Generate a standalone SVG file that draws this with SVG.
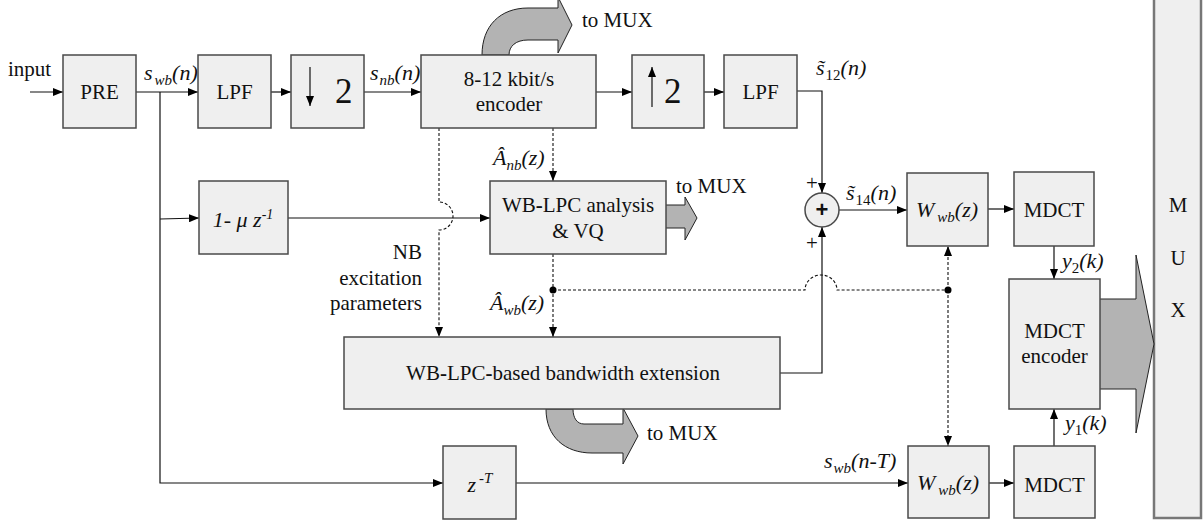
<svg xmlns="http://www.w3.org/2000/svg" width="1203" height="525" viewBox="0 0 1203 525" font-family="Liberation Serif, Times New Roman, Times, serif">
  <defs>
    <marker id="ah" viewBox="0 0 10 8" refX="10" refY="4" markerWidth="10" markerHeight="8" markerUnits="userSpaceOnUse" orient="auto">
      <path d="M0,0 L10,4 L0,8 Z" fill="#000"/>
    </marker>
    <style>
      .box { fill: #efefef; stroke: #4a4a4a; stroke-width: 1.5; }
      .ln { fill: none; stroke: #111; stroke-width: 1.2; }
      .dash { fill: none; stroke: #111; stroke-width: 1.1; stroke-dasharray: 3 2; }
      .fat { fill: #b3b3b3; stroke: #222; stroke-width: 1; }
      text { fill: #111; }
      .t { font-size: 21px; }
      .c { text-anchor: middle; }
      .r { text-anchor: end; }
      .m { font-size: 22px; font-style: italic; }
      .sub { font-size: 15px; }
      .big { font-size: 35px; }
    </style>
  </defs>

  <!-- connectors -->
  <g id="connectors">
    <line class="ln" x1="30" y1="92" x2="63" y2="92" marker-end="url(#ah)"/>
    <line class="ln" x1="136" y1="92" x2="198" y2="92" marker-end="url(#ah)"/>
    <line class="ln" x1="271" y1="92" x2="291" y2="92" marker-end="url(#ah)"/>
    <line class="ln" x1="364" y1="92" x2="421" y2="92" marker-end="url(#ah)"/>
    <line class="ln" x1="596" y1="92" x2="632" y2="92" marker-end="url(#ah)"/>
    <line class="ln" x1="704" y1="92" x2="724" y2="92" marker-end="url(#ah)"/>
    <polyline class="ln" points="797,91 822,91 822,193" marker-end="url(#ah)"/>
    <!-- wideband input branch -->
    <polyline class="ln" points="160,92 160,483 443,483" marker-end="url(#ah)"/>
    <line class="ln" x1="160" y1="219" x2="199" y2="218" marker-end="url(#ah)"/>
    <line class="ln" x1="288" y1="218" x2="490" y2="218" marker-end="url(#ah)"/>
    <!-- excitation parameters (hops over the pre-emphasis line) -->
    <path class="dash" d="M439,128 L439,202 A14,14 0 0 1 439,230 L439,337" marker-end="url(#ah)"/>
    <line class="dash" x1="553" y1="128" x2="553" y2="181" marker-end="url(#ah)"/>
    <line class="dash" x1="553" y1="254" x2="553" y2="337" marker-end="url(#ah)"/>
    <path class="dash" d="M553,290 L805,290 A16,15 0 0 1 837,290 L948,290"/>
    <line class="dash" x1="948" y1="290" x2="948" y2="246" marker-end="url(#ah)"/>
    <line class="dash" x1="948" y1="290" x2="948" y2="446" marker-end="url(#ah)"/>
    <circle cx="553" cy="290" r="3.5" fill="#000"/>
    <circle cx="948" cy="290" r="3.5" fill="#000"/>
    <!-- highband path into adder -->
    <polyline class="ln" points="780,373 822,373 822,227" marker-end="url(#ah)"/>
    <line class="ln" x1="839" y1="210" x2="907" y2="210" marker-end="url(#ah)"/>
    <line class="ln" x1="988" y1="209" x2="1014" y2="209" marker-end="url(#ah)"/>
    <line class="ln" x1="1054" y1="246" x2="1054" y2="279" marker-end="url(#ah)"/>
    <line class="ln" x1="516" y1="483" x2="908" y2="483" marker-end="url(#ah)"/>
    <line class="ln" x1="989" y1="483" x2="1014" y2="483" marker-end="url(#ah)"/>
    <line class="ln" x1="1054" y1="446" x2="1054" y2="409" marker-end="url(#ah)"/>
  </g>

  <!-- multiplexer -->
  <g id="mux">
    <rect x="1154" y="-5" width="47" height="523" fill="#efefef" stroke="#777" stroke-width="2.5"/>
    <text class="t c" x="1178" y="212">M</text>
    <text class="t c" x="1178" y="265">U</text>
    <text class="t c" x="1178" y="317">X</text>
  </g>

  <!-- bitstream arrows to the multiplexer -->
  <g id="to-mux-arrows">
    <path class="fat" d="M482,55 C482,26 500,8 528,8 L558,8 L558,-3 L572,25 L558,53 L558,40 L528,40 C516,40 509,46 509,55 Z"/>
    <text class="t" x="582" y="27">to MUX</text>
    <path class="fat" d="M666,205 L685,205 L685,197 L697,218 L685,240 L685,228 L666,228"/>
    <text class="t" x="676" y="193">to MUX</text>
    <path class="fat" d="M546,409 C546,437 565,453 592,453 L623,453 L623,464 L638,436 L623,408 L623,424 L584,424 C577,424 573,418 573,409 Z"/>
    <text class="t" x="647" y="440">to MUX</text>
    <path class="fat" d="M1100,299 L1136,299 L1136,255 L1154,344 L1136,433 L1136,389 L1100,389"/>
  </g>

  <g id="input-label"><text class="t" x="8" y="76">input</text></g>

  <g id="pre">
    <rect class="box" x="63" y="55" width="73" height="73"/>
    <text class="t c" x="99.5" y="99">PRE</text>
  </g>
  <g id="swb-label">
    <text class="m" x="144" y="80">s<tspan class="sub" dx="2" dy="5">wb</tspan><tspan dy="-5">(n)</tspan></text>
  </g>

  <g id="lpf1">
    <rect class="box" x="198" y="55" width="73" height="73"/>
    <text class="t c" x="234.5" y="99">LPF</text>
  </g>

  <g id="down2">
    <rect class="box" x="291" y="55" width="73" height="73"/>
    <line x1="310" y1="67" x2="310" y2="106" stroke="#111" stroke-width="1.2" marker-end="url(#ah)"/>
    <text class="big" x="335" y="103">2</text>
  </g>
  <g id="snb-label">
    <text class="m" x="370" y="80">s<tspan class="sub" dx="1" dy="5">nb</tspan><tspan dy="-5">(n)</tspan></text>
  </g>

  <g id="nb-encoder">
    <rect class="box" x="421" y="55" width="175" height="73"/>
    <text class="t c" x="509" y="86">8-12 kbit/s</text>
    <text class="t c" x="509" y="111">encoder</text>
  </g>

  <g id="up2">
    <rect class="box" x="632" y="55" width="72" height="73"/>
    <line x1="652" y1="107" x2="652" y2="67" stroke="#111" stroke-width="1.2" marker-end="url(#ah)"/>
    <text class="big" x="664" y="103">2</text>
  </g>

  <g id="lpf2">
    <rect class="box" x="724" y="55" width="73" height="73"/>
    <text class="t c" x="760.5" y="99">LPF</text>
  </g>
  <g id="s12-label">
    <text class="m" x="816" y="75">s&#771;<tspan class="sub" font-style="normal" dx="1" dy="5">12</tspan><tspan dy="-5">(n)</tspan></text>
  </g>

  <g id="anb-label">
    <text class="m" x="493" y="165">Â<tspan class="sub" dy="5">nb</tspan><tspan dy="-5">(z)</tspan></text>
  </g>

  <g id="preemph">
    <rect class="box" x="199" y="181" width="89" height="73"/>
    <text class="m c" x="243" y="227">1- μ z<tspan font-size="14" dy="-8">-1</tspan></text>
  </g>

  <g id="wb-lpc">
    <rect class="box" x="490" y="181" width="176" height="73"/>
    <text class="t c" x="578" y="212">WB<tspan font-weight="bold">-</tspan>LPC analysis</text>
    <text class="t c" x="578" y="238">&amp; VQ</text>
  </g>

  <g id="nb-exc-label">
    <text class="t r" x="422" y="259">NB</text>
    <text class="t r" x="422" y="285">excitation</text>
    <text class="t r" x="422" y="310">parameters</text>
  </g>
  <g id="awb-label">
    <text class="m" x="490" y="310">Â<tspan class="sub" dy="5">wb</tspan><tspan dy="-5">(z)</tspan></text>
  </g>

  <g id="adder">
    <circle cx="822" cy="210" r="17" fill="#efefef" stroke="#4a4a4a" stroke-width="1.5"/>
    <text x="822" y="217" text-anchor="middle" font-family="Liberation Sans, Arial, sans-serif" font-size="22" font-weight="bold">+</text>
    <text class="t" x="806" y="190" font-size="18">+</text>
    <text class="t" x="806" y="250" font-size="18">+</text>
  </g>
  <g id="s14-label">
    <text class="m" x="846" y="200">s&#771;<tspan class="sub" font-style="normal" dx="1" dy="5">14</tspan><tspan dy="-5">(n)</tspan></text>
  </g>

  <g id="weight-hi">
    <rect class="box" x="907" y="173" width="81" height="73"/>
    <text class="m c" x="947" y="217">W<tspan class="sub" dx="3" dy="5">wb</tspan><tspan dy="-5">(z)</tspan></text>
  </g>
  <g id="mdct-hi">
    <rect class="box" x="1014" y="172" width="80" height="74"/>
    <text class="t c" x="1054" y="217">MDCT</text>
  </g>
  <g id="y2-label">
    <text class="m" x="1062" y="268">y<tspan class="sub" font-style="normal" dy="5">2</tspan><tspan dy="-5">(k)</tspan></text>
  </g>

  <g id="mdct-encoder">
    <rect class="box" x="1009" y="279" width="91" height="130"/>
    <text class="t c" x="1054.5" y="338">MDCT</text>
    <text class="t c" x="1054.5" y="363">encoder</text>
  </g>
  <g id="y1-label">
    <text class="m" x="1065" y="430">y<tspan class="sub" font-style="normal" dy="5">1</tspan><tspan dy="-5">(k)</tspan></text>
  </g>

  <g id="bwe">
    <rect class="box" x="344" y="337" width="436" height="72"/>
    <text class="t c" x="563" y="380">WB<tspan font-weight="bold">-</tspan>LPC<tspan font-weight="bold">-</tspan>based bandwidth extension</text>
  </g>

  <g id="delay">
    <rect class="box" x="443" y="446" width="73" height="73"/>
    <text class="m c" x="480" y="492">z<tspan font-size="15" dx="3" dy="-9">-T</tspan></text>
  </g>
  <g id="swbT-label">
    <text class="m" x="824" y="468">s<tspan class="sub" dx="1" dy="5">wb</tspan><tspan dy="-5">(n-T)</tspan></text>
  </g>

  <g id="weight-lo">
    <rect class="box" x="908" y="446" width="81" height="72"/>
    <text class="m c" x="948" y="490">W<tspan class="sub" dx="3" dy="5">wb</tspan><tspan dy="-5">(z)</tspan></text>
  </g>
  <g id="mdct-lo">
    <rect class="box" x="1014" y="446" width="81" height="72"/>
    <text class="t c" x="1054.5" y="492">MDCT</text>
  </g>
</svg>
